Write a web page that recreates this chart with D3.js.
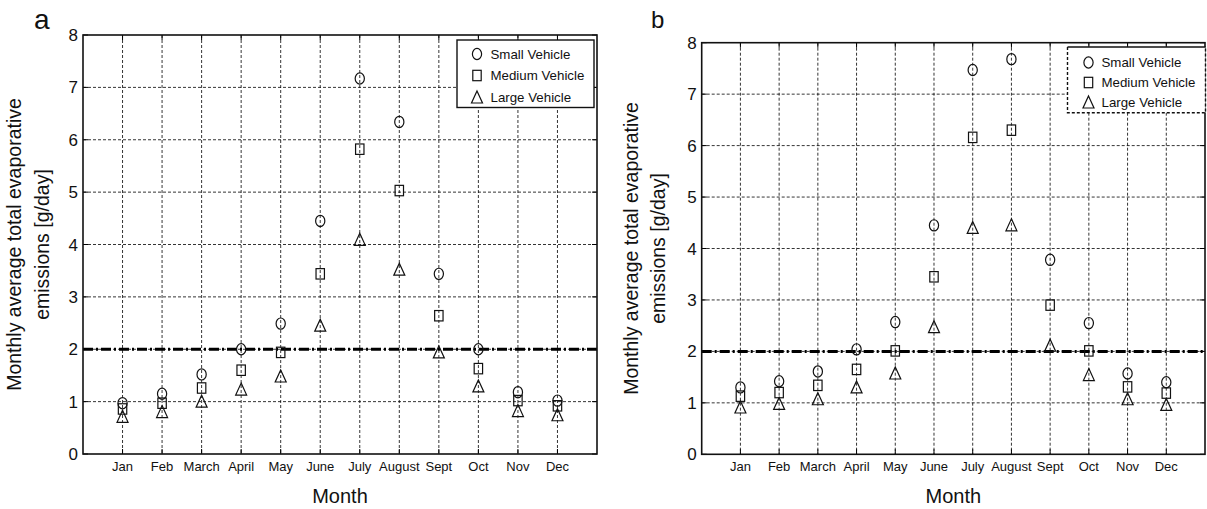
<!DOCTYPE html>
<html>
<head>
<meta charset="utf-8">
<script src="https://cdn.jsdelivr.net/npm/d3@7"></script>
<style>
  body { margin: 0; background: #fff; }
  svg { display: block; font-family: "Liberation Sans", Arial, sans-serif; }
</style>
</head>
<body>
<svg id="chart" width="1207" height="509"></svg>
<script>
// month categories on the x axis
var months = ["Jan", "Feb", "March", "April", "May", "June", "July", "August", "Sept", "Oct", "Nov", "Dec"];
var yTicks = [0, 1, 2, 3, 4, 5, 6, 7, 8];
var seriesNames = ["Small Vehicle", "Medium Vehicle", "Large Vehicle"];
var threshold = 2;

// panel a values (g/day)
var smallA  = [0.97, 1.15, 1.52, 2.00, 2.49, 4.45, 7.17, 6.34, 3.44, 2.00, 1.18, 1.02];
var mediumA = [0.86, 0.97, 1.26, 1.60, 1.94, 3.44, 5.82, 5.03, 2.64, 1.63, 1.02, 0.92];
var largeA  = [0.71, 0.80, 1.00, 1.23, 1.48, 2.45, 4.09, 3.52, 1.94, 1.29, 0.82, 0.74];

// panel b values (g/day)
var smallB  = [1.30, 1.42, 1.61, 2.04, 2.57, 4.45, 7.47, 7.68, 3.78, 2.55, 1.57, 1.40];
var mediumB = [1.13, 1.20, 1.34, 1.65, 2.01, 3.45, 6.16, 6.30, 2.90, 2.01, 1.31, 1.19];
var largeB  = [0.91, 0.98, 1.07, 1.30, 1.57, 2.47, 4.40, 4.45, 2.11, 1.54, 1.07, 0.96];

var svg = d3.select("#chart");

// draws one marker shape centred at 0,0
function marker(g, kind) {
  if (kind === 0) {
    g.append("ellipse").attr("rx", 4.6).attr("ry", 5.6);
  } else if (kind === 1) {
    g.append("rect").attr("x", -4.2).attr("y", -5.2).attr("width", 8.4).attr("height", 10.4);
  } else {
    g.append("path").attr("d", "M0,-6.5L5.5,5.5L-5.5,5.5Z");
  }
}

function drawPanel(p) {
  var x = d3.scaleLinear().domain([0, 13]).range([p.left, p.right]);
  var y = d3.scaleLinear().domain([0, 8]).range([p.bottom, p.top]);
  var g = svg.append("g");

  // dotted grid
  g.append("g").selectAll("line.vg").data(months).enter().append("line")
    .attr("x1", function(d, i) { return x(i + 1); })
    .attr("x2", function(d, i) { return x(i + 1); })
    .attr("y1", p.top).attr("y2", p.bottom)
    .attr("style", "stroke:#000;stroke-width:0.8;stroke-dasharray:3,2;");
  g.append("g").selectAll("line.hg").data(yTicks.slice(1, -1)).enter().append("line")
    .attr("y1", function(d) { return y(d); })
    .attr("y2", function(d) { return y(d); })
    .attr("x1", p.left).attr("x2", p.right)
    .attr("style", "stroke:#000;stroke-width:0.8;stroke-dasharray:3,2;");

  // threshold dash-dot line
  g.append("line")
    .attr("x1", p.left).attr("x2", p.right)
    .attr("y1", y(threshold)).attr("y2", y(threshold))
    .attr("style", "stroke:#000;stroke-width:3;stroke-dasharray:10,3,2,3;");

  // inward ticks on all four sides
  months.forEach(function(m, i) {
    g.append("line").attr("x1", x(i + 1)).attr("x2", x(i + 1)).attr("y1", p.bottom).attr("y2", p.bottom - 5)
      .attr("style", "stroke:#000;stroke-width:1;");
    g.append("line").attr("x1", x(i + 1)).attr("x2", x(i + 1)).attr("y1", p.top).attr("y2", p.top + 5)
      .attr("style", "stroke:#000;stroke-width:1;");
  });
  yTicks.forEach(function(t) {
    g.append("line").attr("x1", p.left).attr("x2", p.left + 5).attr("y1", y(t)).attr("y2", y(t))
      .attr("style", "stroke:#000;stroke-width:1;");
    g.append("line").attr("x1", p.right).attr("x2", p.right - 5).attr("y1", y(t)).attr("y2", y(t))
      .attr("style", "stroke:#000;stroke-width:1;");
  });

  // box
  g.append("rect")
    .attr("x", p.left).attr("y", p.top)
    .attr("width", p.right - p.left).attr("height", p.bottom - p.top)
    .attr("style", "fill:none;stroke:#111;stroke-width:1.6;");

  // tick labels
  g.append("g").selectAll("text").data(months).enter().append("text")
    .attr("x", function(d, i) { return x(i + 1); })
    .attr("y", p.bottom + 17)
    .attr("text-anchor", "middle")
    .attr("style", "font-size:13px;fill:#111;")
    .text(function(d) { return d; });
  g.append("g").selectAll("text").data(yTicks).enter().append("text")
    .attr("x", p.left - 5)
    .attr("y", function(d) { return y(d) + 6; })
    .attr("text-anchor", "end")
    .attr("style", "font-size:17px;fill:#111;")
    .text(function(d) { return d; });

  // axis titles
  var cy = (p.top + p.bottom) / 2;
  g.append("text")
    .attr("transform", "translate(" + p.ylab1 + "," + cy + ") rotate(-90)")
    .attr("text-anchor", "middle")
    .attr("style", "font-size:19.5px;fill:#111;")
    .text("Monthly average total evaporative");
  g.append("text")
    .attr("transform", "translate(" + p.ylab2 + "," + cy + ") rotate(-90)")
    .attr("text-anchor", "middle")
    .attr("style", "font-size:19.5px;fill:#111;")
    .text("emissions [g/day]");
  g.append("text")
    .attr("x", (p.left + p.right) / 2).attr("y", 503)
    .attr("text-anchor", "middle")
    .attr("style", "font-size:20px;fill:#111;")
    .text("Month");

  // panel letter
  g.append("text")
    .attr("x", p.letterX).attr("y", p.letterY)
    .attr("style", "font-size:" + p.letterSize + "px;fill:#111;")
    .text(p.letter);

  // data markers
  p.series.forEach(function(vals, k) {
    g.append("g").selectAll("g").data(vals).enter().append("g")
      .attr("transform", function(d, i) { return "translate(" + x(i + 1) + "," + y(d) + ")"; })
      .attr("style", "fill:none;stroke:#111;stroke-width:1.2;")
      .each(function() { marker(d3.select(this), k); });
  });

  // legend
  var L = p.legend;
  var lg = g.append("g");
  lg.append("rect")
    .attr("x", L.x0).attr("y", L.y0).attr("width", L.x1 - L.x0).attr("height", L.y1 - L.y0)
    .attr("style", "fill:#fff;stroke:none;");
  if (L.dashed) {
    lg.append("line").attr("x1", L.x0).attr("x2", L.x1).attr("y1", L.y0).attr("y2", L.y0)
      .attr("style", "stroke:#111;stroke-width:1.4;");
    lg.append("path")
      .attr("d", "M" + L.x0 + "," + L.y0 + "V" + L.y1 + "H" + L.x1 + "V" + L.y0)
      .attr("style", "fill:none;stroke:#111;stroke-width:1.4;stroke-dasharray:3,2;");
  } else {
    lg.append("rect")
      .attr("x", L.x0).attr("y", L.y0).attr("width", L.x1 - L.x0).attr("height", L.y1 - L.y0)
      .attr("style", "fill:none;stroke:#111;stroke-width:1.4;");
  }
  seriesNames.forEach(function(name, k) {
    var row = lg.append("g").attr("transform", "translate(" + L.mx + "," + L.rows[k] + ")");
    var m = row.append("g").attr("style", "fill:none;stroke:#111;stroke-width:1.2;");
    marker(m, k);
    row.append("text")
      .attr("x", L.tx - L.mx).attr("y", 4.5)
      .attr("style", "font-size:13.3px;fill:#111;")
      .text(name);
  });
}

drawPanel({
  left: 83, right: 597, top: 35, bottom: 454,
  ylab1: 21, ylab2: 49,
  letter: "a", letterX: 34, letterY: 29, letterSize: 28,
  series: [smallA, mediumA, largeA],
  legend: { x0: 457, x1: 594, y0: 40, y1: 107.5, mx: 477, tx: 490.5, rows: [54, 75.5, 97.5], dashed: false }
});

drawPanel({
  left: 701.7, right: 1205, top: 42.7, bottom: 454.3,
  ylab1: 638, ylab2: 665,
  letter: "b", letterX: 651, letterY: 28, letterSize: 24,
  series: [smallB, mediumB, largeB],
  legend: { x0: 1067.5, x1: 1205.5, y0: 47, y1: 112.7, mx: 1088.5, tx: 1101.5, rows: [62.5, 82.5, 102.5], dashed: true }
});
</script>
</body>
</html>
